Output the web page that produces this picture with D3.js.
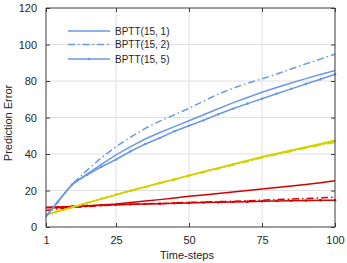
<!DOCTYPE html>
<html>
<head>
<meta charset="utf-8">
<script src="https://cdn.jsdelivr.net/npm/d3@7"></script>
<style>
  body { margin: 0; background: #fff; }
  text { font-family: "Liberation Sans", Arial, sans-serif; fill: #262626; }
</style>
</head>
<body>
<div id="chart"></div>
<script>
// time steps shared by every series
const steps = [1, 3, 5, 7, 10, 15, 20, 25, 30, 35, 40, 45, 50, 55, 60, 65, 70, 75, 80, 85, 90, 95, 100];

// blue group
const blue1 = [5.8, 9.8, 13.8, 17.8, 23.5, 29, 34.3, 39.5, 44, 48.2, 51.8, 55, 58.2, 61.5, 64.8, 68, 71, 73.8, 76.4, 78.9, 81.3, 83.6, 85.8];
const blue2 = [5.8, 9.8, 13.8, 17.8, 23.6, 31, 38, 44, 49.3, 54, 58, 61.5, 65, 69, 72.8, 76, 78.8, 81.2, 83.8, 86.6, 89.4, 92, 94.7];
const blue5 = [5.6, 9.6, 13.6, 17.6, 23.3, 28.5, 33, 37, 41.5, 45.5, 48.8, 52.5, 55.5, 58.5, 61.8, 64.8, 67.6, 70.3, 73, 75.7, 78.4, 81, 83.7];

// yellow group
const yellow1 = [6.7, 7.6, 8.6, 9.5, 10.8, 13.2, 15.5, 17.7, 20, 22, 24.2, 26.2, 28.3, 30.4, 32.4, 34.4, 36.5, 38.5, 40.3, 42.1, 43.9, 45.6, 47.5];
const yellow2 = [6.6, 7.5, 8.5, 9.4, 10.7, 13.1, 15.4, 17.6, 19.8, 21.8, 23.9, 25.9, 28, 30, 31.9, 33.9, 35.9, 37.9, 39.7, 41.4, 43.2, 44.8, 46.3];
const yellow5 = [6.7, 7.6, 8.6, 9.5, 10.8, 13.2, 15.4, 17.7, 19.9, 21.9, 24.1, 26.1, 28.2, 30.2, 32.2, 34.2, 36.2, 38.2, 40, 41.8, 43.5, 45.2, 47];

// red group
const red1 = [10.5, 10.5, 10.6, 10.8, 11, 11.5, 12, 12.6, 13.4, 14.2, 15, 15.9, 16.8, 17.6, 18.4, 19.2, 20, 20.8, 21.6, 22.4, 23.3, 24.3, 25.3];
const red2 = [9, 9.5, 10, 10.3, 10.7, 11.2, 11.7, 12.1, 12.4, 12.7, 12.9, 13.2, 13.5, 13.7, 13.9, 14.1, 14.4, 14.7, 15, 15.3, 15.6, 16, 16.3];
const red5 = [10.8, 10.9, 11, 11.1, 11.3, 11.6, 11.9, 12.2, 12.4, 12.6, 12.8, 13, 13.2, 13.4, 13.5, 13.7, 13.9, 14.1, 14.3, 14.4, 14.5, 14.6, 14.6];

const xTicks = [1, 25, 50, 75, 100];
const yTicks = [0, 20, 40, 60, 80, 100, 120];
const legendLabels = ["BPTT(15, 1)", "BPTT(15, 2)", "BPTT(15, 5)"];

const width = 347, height = 263;
const margin = { top: 8, right: 12, bottom: 36, left: 46 };

const blue = "#6a98ea", yellow = "#d2d200", red = "#d60000";
const dashDot = "7,3,1.5,3";

const series = [
  { vals: red1, color: red, dash: null, marker: false },
  { vals: red2, color: red, dash: dashDot, marker: false },
  { vals: red5, color: red, dash: null, marker: true },
  { vals: yellow1, color: yellow, dash: null, marker: false },
  { vals: yellow2, color: yellow, dash: dashDot, marker: false },
  { vals: yellow5, color: yellow, dash: null, marker: true },
  { vals: blue1, color: blue, dash: null, marker: false },
  { vals: blue2, color: blue, dash: dashDot, marker: false },
  { vals: blue5, color: blue, dash: null, marker: true }
];

let svg = d3.select("#chart")
  .append("svg")
  .attr("width", width)
  .attr("height", height);

let x = d3.scaleLinear().domain([1, 100]).range([margin.left, width - margin.right]);
let y = d3.scaleLinear().domain([0, 120]).range([height - margin.bottom, margin.top]);

// grid
svg.append("g")
  .selectAll("line")
  .data(xTicks.slice(1, -1))
  .enter().append("line")
  .attr("x1", d => x(d)).attr("x2", d => x(d))
  .attr("y1", y(0)).attr("y2", y(120))
  .style("stroke", "#e0e0e0").style("stroke-width", 1);

svg.append("g")
  .selectAll("line")
  .data(yTicks.slice(1, -1))
  .enter().append("line")
  .attr("x1", x(1)).attr("x2", x(100))
  .attr("y1", d => y(d)).attr("y2", d => y(d))
  .style("stroke", "#e0e0e0").style("stroke-width", 1);

// lines
let line = d3.line()
  .x((d, i) => x(steps[i]))
  .y(d => y(d));

let plot = svg.append("g");

series.forEach(function (s) {
  plot.append("path")
    .datum(s.vals)
    .attr("d", line)
    .style("fill", "none")
    .style("stroke", s.color)
    .style("stroke-width", 1.5)
    .style("stroke-dasharray", s.dash);

  if (s.marker) {
    plot.selectAll(null)
      .data(s.vals.map((v, i) => [steps[i], v]).filter(d => d[0] % 5 === 0))
      .enter().append("circle")
      .attr("cx", d => x(d[0]))
      .attr("cy", d => y(d[1]))
      .attr("r", 1.3)
      .style("fill", s.color);
  }
});

// axes (box with inward ticks)
let axisColor = "#3a3a3a";

let axBottom = svg.append("g")
  .attr("transform", `translate(0, ${y(0)})`)
  .call(d3.axisBottom(x).tickValues(xTicks).tickSize(-4).tickPadding(9));
let axTop = svg.append("g")
  .attr("transform", `translate(0, ${y(120)})`)
  .call(d3.axisTop(x).tickValues(xTicks).tickSize(-4).tickFormat(""));
let axLeft = svg.append("g")
  .attr("transform", `translate(${x(1)}, 0)`)
  .call(d3.axisLeft(y).tickValues(yTicks).tickSize(-4).tickPadding(9));
let axRight = svg.append("g")
  .attr("transform", `translate(${x(100)}, 0)`)
  .call(d3.axisRight(y).tickValues(yTicks).tickSize(-4).tickFormat(""));

[axBottom, axTop].forEach(function (g) {
  g.select(".domain").attr("d", `M${x(1)},0H${x(100)}`);
});
[axLeft, axRight].forEach(function (g) {
  g.select(".domain").attr("d", `M0,${y(0)}V${y(120)}`);
});

[axBottom, axTop, axLeft, axRight].forEach(function (g) {
  g.select(".domain").style("stroke", axisColor);
  g.selectAll(".tick line").style("stroke", axisColor);
  g.selectAll(".tick text")
    .style("font-family", '"Liberation Sans", Arial, sans-serif')
    .style("font-size", "11px")
    .style("fill", "#262626");
});

// axis titles
svg.append("text")
  .attr("x", 187)
  .attr("y", 259)
  .style("text-anchor", "middle")
  .style("font-size", "11px")
  .text("Time-steps");

svg.append("text")
  .attr("transform", "translate(12, 123) rotate(-90)")
  .style("text-anchor", "middle")
  .style("font-size", "11px")
  .text("Prediction Error");

// legend
let legend = svg.append("g");
let legendStyles = [
  { dash: null, marker: false },
  { dash: dashDot, marker: false },
  { dash: null, marker: true }
];
let legendY = [31, 44.5, 59];

legendLabels.forEach(function (label, i) {
  let ly = legendY[i];
  legend.append("line")
    .attr("x1", 68).attr("x2", 110)
    .attr("y1", ly).attr("y2", ly)
    .style("stroke", blue)
    .style("stroke-width", 1.5)
    .style("stroke-dasharray", legendStyles[i].dash);
  if (legendStyles[i].marker) {
    legend.append("circle")
      .attr("cx", 89).attr("cy", ly).attr("r", 1.3)
      .style("fill", blue);
  }
  legend.append("text")
    .attr("x", 115)
    .attr("y", ly)
    .attr("dy", "0.35em")
    .style("font-size", "10px")
    .text(label);
});
</script>
</body>
</html>
